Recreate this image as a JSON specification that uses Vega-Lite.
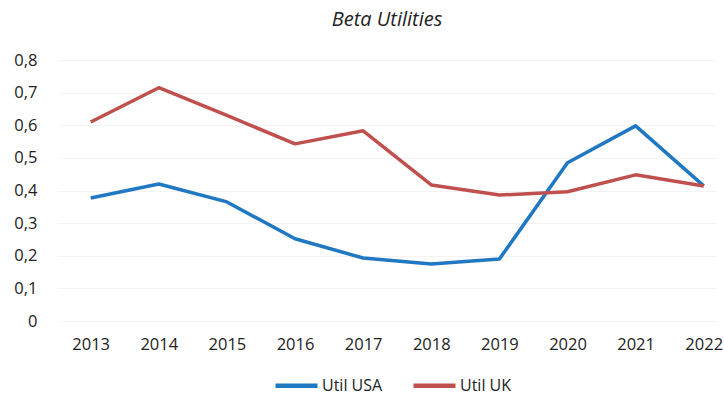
{
  "$schema": "https://vega.github.io/schema/vega-lite/v6.json",
  "autosize": "none",
  "width": 658,
  "height": 261,
  "padding": {"left": 58, "top": 60, "right": 8, "bottom": 72},
  "background": "white",
  "title": {"text": "Beta Utilities", "font": "Open Sans", "fontSize": 20, "fontStyle": "italic", "fontWeight": "normal", "color": "#222222", "offset": 22, "anchor": "middle"},
  "config": {"view": {"stroke": null}, "font": "Open Sans"},
  "data": {"values": [
    {"year": 2013, "series": "Util USA", "beta": 0.377},
    {"year": 2014, "series": "Util USA", "beta": 0.42},
    {"year": 2015, "series": "Util USA", "beta": 0.365},
    {"year": 2016, "series": "Util USA", "beta": 0.252},
    {"year": 2017, "series": "Util USA", "beta": 0.193},
    {"year": 2018, "series": "Util USA", "beta": 0.175},
    {"year": 2019, "series": "Util USA", "beta": 0.19},
    {"year": 2020, "series": "Util USA", "beta": 0.485},
    {"year": 2021, "series": "Util USA", "beta": 0.598},
    {"year": 2022, "series": "Util USA", "beta": 0.414},
    {"year": 2013, "series": "Util UK", "beta": 0.61},
    {"year": 2014, "series": "Util UK", "beta": 0.715},
    {"year": 2015, "series": "Util UK", "beta": 0.63},
    {"year": 2016, "series": "Util UK", "beta": 0.543},
    {"year": 2017, "series": "Util UK", "beta": 0.583},
    {"year": 2018, "series": "Util UK", "beta": 0.417},
    {"year": 2019, "series": "Util UK", "beta": 0.386},
    {"year": 2020, "series": "Util UK", "beta": 0.396},
    {"year": 2021, "series": "Util UK", "beta": 0.448},
    {"year": 2022, "series": "Util UK", "beta": 0.414}
  ]},
  "mark": {"type": "line", "strokeWidth": 3.5, "strokeJoin": "round"},
  "encoding": {
    "x": {"field": "year", "type": "quantitative",
      "scale": {"domain": [2012.52, 2022.18], "nice": false, "zero": false},
      "axis": {"title": null, "values": [2013,2014,2015,2016,2017,2018,2019,2020,2021,2022], "format": "d", "grid": false, "domain": false, "ticks": false, "labelFont": "Open Sans", "labelFontSize": 16.5, "labelColor": "#222222", "labelPadding": 15}},
    "y": {"field": "beta", "type": "quantitative",
      "scale": {"domain": [0, 0.8], "nice": false},
      "axis": {"title": null, "values": [0,0.1,0.2,0.3,0.4,0.5,0.6,0.7,0.8], "labelExpr": "datum.value == 0 ? '0' : replace(format(datum.value, '.1f'), '.', ',')", "grid": true, "gridColor": "#f3f3f3", "domain": false, "ticks": false, "labelFont": "Open Sans", "labelFontSize": 16.5, "labelColor": "#222222", "labelPadding": 21}},
    "color": {"field": "series", "type": "nominal", "sort": ["Util USA", "Util UK"],
      "scale": {"domain": ["Util USA", "Util UK"], "range": ["#1f78c1", "#c0504d"]},
      "legend": {"title": null, "orient": "none", "legendX": 215, "legendY": 302, "direction": "horizontal", "symbolType": "stroke", "symbolStrokeWidth": 4.5, "symbolSize": 1764, "labelOffset": 2, "labelFont": "Open Sans", "labelFontSize": 16, "labelColor": "#222222", "columnPadding": 21}}
  }
}
